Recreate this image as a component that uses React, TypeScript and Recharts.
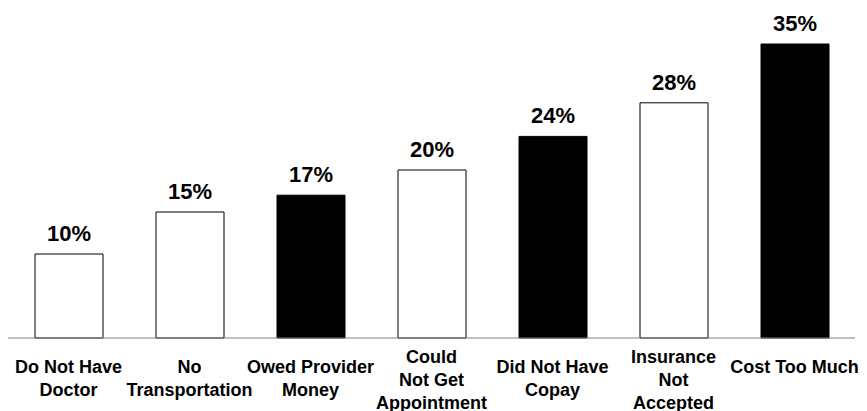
import React from 'react';
import { BarChart, Bar, XAxis, YAxis, Cell, LabelList } from 'recharts';

const categories = [
  'Do Not Have\nDoctor',
  'No\nTransportation',
  'Owed Provider\nMoney',
  'Could\nNot Get\nAppointment',
  'Did Not Have\nCopay',
  'Insurance\nNot\nAccepted',
  'Cost Too Much',
];
const percentages = [10, 15, 17, 20, 24, 28, 35];
const fills = ['#ffffff', '#ffffff', '#000000', '#ffffff', '#000000', '#ffffff', '#000000'];

const data = categories.map((name, i) => ({ name, value: percentages[i] }));

const FONT = '"Liberation Sans", Arial, sans-serif';

const CategoryTick = (props: any) => {
  const { x, y, payload } = props;
  const lines = String(payload.value).split('\n');
  const start = lines.length >= 3 ? 25 : 35;
  return (
    <text x={x} y={y} textAnchor="middle" fontSize={18} fontWeight="bold" fill="#000" fontFamily={FONT}>
      {lines.map((l, i) => (
        <tspan key={i} x={x} y={y + start + i * 23}>
          {l}
        </tspan>
      ))}
    </text>
  );
};

export default function App() {
  return (
    <div style={{ fontFamily: FONT, width: 867, height: 411, background: '#fff' }}>
      <style>{`html, body { margin: 0; padding: 0; overflow: hidden; }`}</style>
      <BarChart
        width={867}
        height={411}
        data={data}
        margin={{ top: 44, right: 12, bottom: 0, left: 8 }}
        barSize={68}
      >
        <XAxis
          dataKey="name"
          interval={0}
          height={73}
          tickLine={false}
          tickSize={0}
          tickMargin={0}
          axisLine={{ stroke: '#808080', strokeWidth: 1 }}
          tick={<CategoryTick />}
        />
        <YAxis hide domain={[0, 35]} />
        <Bar dataKey="value" stroke="#000" strokeWidth={1} isAnimationActive={false}>
          {data.map((d, i) => (
            <Cell key={i} fill={fills[i]} />
          ))}
          <LabelList
            dataKey="value"
            position="top"
            offset={13}
            formatter={(v: any) => `${v}%`}
            style={{ fontSize: 22, fontWeight: 'bold', fill: '#000', fontFamily: FONT }}
          />
        </Bar>
      </BarChart>
    </div>
  );
}
